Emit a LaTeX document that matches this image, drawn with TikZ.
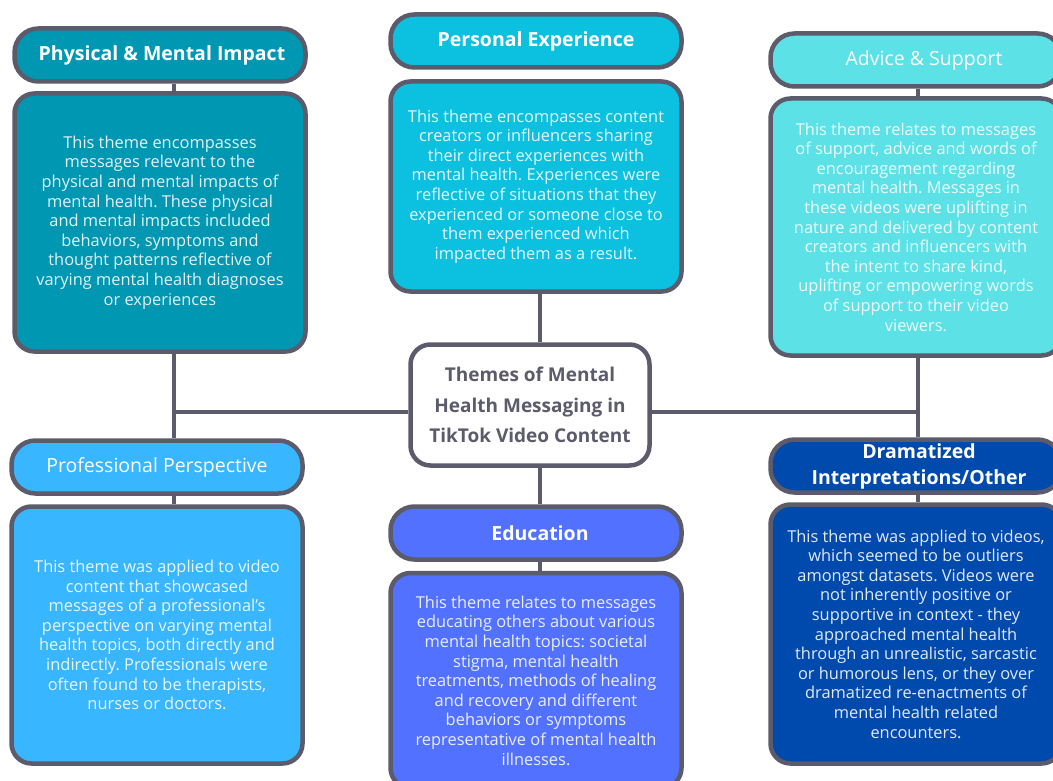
\documentclass[tikz,border=0pt]{standalone}
\usepackage{fontspec}
\setmainfont{Open Sans}
\frenchspacing
\definecolor{edge}{HTML}{5B5B6B}
\definecolor{cphy}{HTML}{0097B2}
\definecolor{cper}{HTML}{0CC0DF}
\definecolor{cadv}{HTML}{5CE1E6}
\definecolor{cpro}{HTML}{38B6FF}
\definecolor{cedu}{HTML}{5271FF}
\definecolor{cdra}{HTML}{004AAD}
\tikzset{
  box/.style={draw=edge, line width=4.5pt, rectangle, rounded corners=20pt, minimum width=291pt, inner sep=0pt, align=center},
  titlebox/.style={box, minimum height=53pt, rounded corners=24pt, text=white, font=\fontsize{19.5}{26}\selectfont\bfseries},
  titlelight/.style={titlebox, font=\fontsize{19.5}{26}\selectfont},
  bodybox/.style={box, text=white, text opacity=0.88, font=\fontsize{16.4}{19.6}\selectfont},
  centerbox/.style={box, fill=white, minimum width=239pt, minimum height=121pt, text=edge, font=\fontsize{19}{30.5}\selectfont\bfseries},
  conn/.style={draw=edge, line width=4.5pt}
}
\begin{document}
\begin{tikzpicture}[x=1pt,y=-1pt]
\useasboundingbox (0,0) rectangle (1053,781);
\clip (0,0) rectangle (1053,781);
% nodes
\node[titlebox, fill=cphy] (phyT) at (160,55) {\hspace*{4pt}Physical \& Mental Impact};
\node[bodybox, fill=cphy, minimum height=258pt] (phyB) at (160,222.5) {This theme encompasses\\messages relevant to the\\physical and mental impacts of\\mental health. These physical\\and mental impacts included\\behaviors, symptoms and\\thought patterns reflective of\\varying mental health diagnoses\\or experiences};
\node[titlebox, fill=cper] (perT) at (536,41) {Personal Experience};
\node[bodybox, fill=cper, minimum height=210pt] (perB) at (536,186.5) {This theme encompasses content\\creators or influencers sharing\\their direct experiences with\\mental health. Experiences were\\reflective of situations that they\\experienced or someone close to\\them experienced which\\impacted them as a result.};
\node[titlelight, fill=cadv] (advT) at (916,60) {\hspace*{16pt}Advice \& Support};
\node[bodybox, fill=cadv, minimum height=257pt] (advB) at (916,227) {This theme relates to messages\\of support, advice and words of\\encouragement regarding\\mental health. Messages in\\these videos were uplifting in\\nature and delivered by content\\creators and influencers with\\the intent to share kind,\\uplifting or empowering words\\of support to their video\\viewers.};
\node[centerbox] (cen) at (530,405) {Themes of Mental\\Health Messaging in\\TikTok Video Content};
\node[titlelight, fill=cpro] (proT) at (157,467) {Professional Perspective};
\node[bodybox, fill=cpro, minimum height=257pt] (proB) at (157,635) {This theme was applied to video\\content that showcased\\messages of a professional’s\\perspective on varying mental\\health topics, both directly and\\indirectly. Professionals were\\often found to be therapists,\\nurses or doctors.};
\node[titlebox, fill=cedu] (eduT) at (536,533) {\hspace*{8pt}Education};
\node[bodybox, fill=cedu, minimum height=215pt] (eduB) at (536,680.5) {This theme relates to messages\\educating others about various\\mental health topics: societal\\stigma, mental health\\treatments, methods of healing\\and recovery and different\\behaviors or symptoms\\representative of mental health\\illnesses.};
\node[titlebox, fill=cdra] (draT) at (916,466) {\hspace*{6pt}Dramatized\\\hspace*{6pt}Interpretations/Other};
\node[bodybox, fill=cdra, minimum height=259pt] (draB) at (916,634) {This theme was applied to videos,\\which seemed to be outliers\\amongst datasets. Videos were\\not inherently positive or\\supportive in context - they\\approached mental health\\through an unrealistic, sarcastic\\or humorous lens, or they over\\dramatized re-enactments of\\mental health related\\encounters.};
% junction coordinates
\coordinate (jl) at (174,412);
\coordinate (jr) at (918,412);
\coordinate (jm) at (540,404);
% connectors
\draw[conn] (jl |- phyT.south) -- (jl |- phyB.north);
\draw[conn] (jl |- phyB.south) -- (jl |- proT.north);
\draw[conn] (jl |- proT.south) -- (jl |- proB.north);
\draw[conn] (jl) -- (jl -| cen.west);
\draw[conn] (jr -| cen.east) -- (jr);
\draw[conn] (jr |- advT.south) -- (jr |- advB.north);
\draw[conn] (jr |- advB.south) -- (jr |- draT.north);
\draw[conn] (jr |- draT.south) -- (jr |- draB.north);
\draw[conn] (jm |- perB.south) -- (jm |- cen.north);
\draw[conn] (jm |- cen.south) -- (jm |- eduT.north);
\draw[conn] (jm |- eduT.south) -- (jm |- eduB.north);
\end{tikzpicture}
\end{document}
